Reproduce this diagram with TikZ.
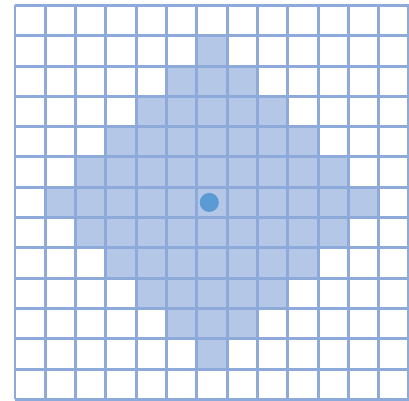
\documentclass[tikz,border=0pt]{standalone}
\usepackage{tikz}
\usetikzlibrary{calc}
\definecolor{gridblue}{HTML}{8EAADB}
\definecolor{cellfill}{HTML}{B4C7E7}
\definecolor{dotblue}{HTML}{5B9BD5}
\tikzset{
  % raster
  cell/.style={fill=cellfill,draw=none},
  gridline/.style={draw=gridblue,line width=2.8pt},
  centre/.style={circle,fill=dotblue,draw=none,inner sep=0pt,minimum size=0.63cm},
}
\begin{document}
\begin{tikzpicture}
\useasboundingbox (-0.495,-0.02) rectangle (13,13.18);
  % cells with |r-6|+|c-6| <= 5
  \foreach \r in {0,...,12}
    \foreach \c in {0,...,12}{
      \pgfmathtruncatemacro{\dist}{abs(\r-6)+abs(\c-6)}
      \ifnum\dist<6
        \fill[cell] (\c,\r) rectangle ++(1,1);
      \fi
    }
  \draw[gridline] (0,0) grid (13,13);
  \node[centre] (mid) at (6.41,6.5) {};
\end{tikzpicture}
\end{document}
